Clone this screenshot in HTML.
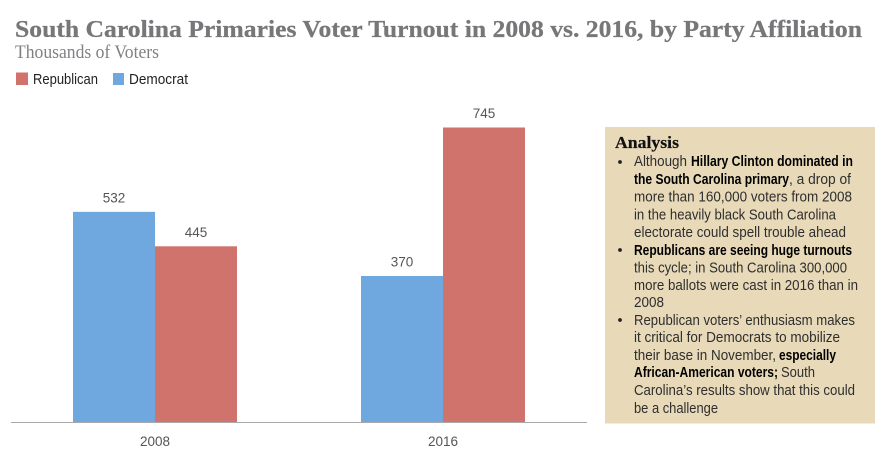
<!DOCTYPE html>
<html>
<head>
<meta charset="utf-8">
<title>South Carolina Primaries Voter Turnout</title>
<style>
html,body{margin:0;padding:0;background:#fff;width:890px;height:455px;overflow:hidden}
svg{display:block}
.body{font-family:"Liberation Sans",sans-serif;font-size:14.5px;fill:#2e2e2e}
.bold{font-family:"Liberation Sans",sans-serif;font-size:14.5px;font-weight:bold;fill:#000}
.num{font-family:"Liberation Sans",sans-serif;font-size:13.5px;fill:#555}
</style>
</head>
<body>
<svg id="chart" width="890" height="455" viewBox="0 0 890 455" xmlns="http://www.w3.org/2000/svg">
  <text x="15" y="37" font-family="'Liberation Serif',serif" font-weight="bold" font-size="24" fill="#77777a" stroke="#77777a" stroke-width="0.25" textLength="847" lengthAdjust="spacingAndGlyphs">South Carolina Primaries Voter Turnout in 2008 vs. 2016, by Party Affiliation</text>
  <text x="15" y="58" font-family="'Liberation Serif',serif" font-size="18.5" fill="#808085" textLength="144" lengthAdjust="spacingAndGlyphs">Thousands of Voters</text>

  <g>
    <rect x="16" y="72.5" width="12" height="12.5" fill="#cf736c"/>
    <text x="33" y="84" font-family="'Liberation Sans',sans-serif" font-size="14.5" fill="#222" textLength="65" lengthAdjust="spacingAndGlyphs">Republican</text>
    <rect x="113" y="73" width="11" height="12" fill="#6fa8df"/>
    <text x="129" y="84" font-family="'Liberation Sans',sans-serif" font-size="14.5" fill="#222" textLength="59" lengthAdjust="spacingAndGlyphs">Democrat</text>
  </g>

  <g id="plot"></g>

  <g>
    <rect x="605" y="127" width="270" height="296.5" fill="#e8dab9"/>
    <text x="615" y="148" font-family="'Liberation Serif',serif" font-weight="bold" font-size="17" fill="#111" stroke="#111" stroke-width="0.2" textLength="64" lengthAdjust="spacingAndGlyphs">Analysis</text>

    <circle cx="620" cy="162" r="1.9" fill="#222"/>
    <circle cx="620" cy="250" r="1.9" fill="#222"/>
    <circle cx="620" cy="320" r="1.9" fill="#222"/>

    <g>
      <text class="body" x="634" y="166" textLength="53" lengthAdjust="spacingAndGlyphs">Although</text>
      <text class="bold" x="691" y="166" textLength="162" lengthAdjust="spacingAndGlyphs">Hillary Clinton dominated in</text>
      <text class="bold" x="634" y="184" textLength="155" lengthAdjust="spacingAndGlyphs">the South Carolina primary</text>
      <text class="body" x="789" y="184" textLength="62" lengthAdjust="spacingAndGlyphs">, a drop of</text>
      <text class="body" x="634" y="201.5" textLength="218" lengthAdjust="spacingAndGlyphs">more than 160,000 voters from 2008</text>
      <text class="body" x="634" y="219.5" textLength="202" lengthAdjust="spacingAndGlyphs">in the heavily black South Carolina</text>
      <text class="body" x="634" y="237" textLength="212" lengthAdjust="spacingAndGlyphs">electorate could spell trouble ahead</text>
      <text class="bold" x="634" y="255" textLength="218" lengthAdjust="spacingAndGlyphs">Republicans are seeing huge turnouts</text>
      <text class="body" x="634" y="272.5" textLength="213" lengthAdjust="spacingAndGlyphs">this cycle; in South Carolina 300,000</text>
      <text class="body" x="634" y="290" textLength="224" lengthAdjust="spacingAndGlyphs">more ballots were cast in 2016 than in</text>
      <text class="body" x="634" y="307" textLength="30" lengthAdjust="spacingAndGlyphs">2008</text>
      <text class="body" x="634" y="325" textLength="221" lengthAdjust="spacingAndGlyphs">Republican voters’ enthusiasm makes</text>
      <text class="body" x="634" y="342" textLength="206" lengthAdjust="spacingAndGlyphs">it critical for Democrats to mobilize</text>
      <text class="body" x="634" y="360" textLength="142" lengthAdjust="spacingAndGlyphs">their base in November,</text>
      <text class="bold" x="779" y="360" textLength="57" lengthAdjust="spacingAndGlyphs">especially</text>
      <text class="bold" x="634" y="377" textLength="144" lengthAdjust="spacingAndGlyphs">African-American voters;</text>
      <text class="body" x="781" y="377" textLength="34" lengthAdjust="spacingAndGlyphs">South</text>
      <text class="body" x="634" y="395" textLength="221" lengthAdjust="spacingAndGlyphs">Carolina’s results show that this could</text>
      <text class="body" x="634" y="413" textLength="84" lengthAdjust="spacingAndGlyphs">be a challenge</text>
    </g>
  </g>
</svg>
<script>
const categories = ['2008', '2016'];
const democrat = [532, 370];
const republican = [445, 745];

const NS = 'http://www.w3.org/2000/svg';
const plot = document.getElementById('plot');
const baseY = 422.5;
const pxPerUnit = 295 / 745;
const axisLeft = 11;
const bandWidth = 288;
const barWidth = 82;

function yScale(v) { return baseY - v * pxPerUnit; }
function xCenter(i) { return axisLeft + bandWidth * (i + 0.5); }

function drawBar(i, value, offset, color, label) {
  const rect = document.createElementNS(NS, 'rect');
  rect.setAttribute('x', xCenter(i) + offset);
  rect.setAttribute('y', yScale(value));
  rect.setAttribute('width', barWidth);
  rect.setAttribute('height', baseY - yScale(value));
  rect.setAttribute('fill', color);
  
  
  plot.appendChild(rect);

  const text = document.createElementNS(NS, 'text');
  text.setAttribute('class', 'num');
  text.setAttribute('x', xCenter(i) + offset + barWidth / 2);
  text.setAttribute('y', yScale(value) - 9.5);
  text.setAttribute('text-anchor', 'middle');
  
  
  text.textContent = value;
  plot.appendChild(text);
}

categories.forEach(function (cat, i) {
  drawBar(i, democrat[i], -barWidth, '#6fa8df', 'democrat');
  drawBar(i, republican[i], 0, '#cf736c', 'republican');

  const tick = document.createElementNS(NS, 'text');
  tick.setAttribute('class', 'num');
  tick.setAttribute('x', xCenter(i));
  tick.setAttribute('y', 446);
  tick.setAttribute('text-anchor', 'middle');
  
  
  tick.textContent = cat;
  plot.appendChild(tick);
});

const axis = document.createElementNS(NS, 'line');
axis.setAttribute('x1', axisLeft);
axis.setAttribute('x2', axisLeft + bandWidth * categories.length);
axis.setAttribute('y1', baseY);
axis.setAttribute('y2', baseY);
axis.setAttribute('stroke', '#a9a9a9');
axis.setAttribute('stroke-width', '1');


plot.appendChild(axis);
</script>
</body>
</html>
